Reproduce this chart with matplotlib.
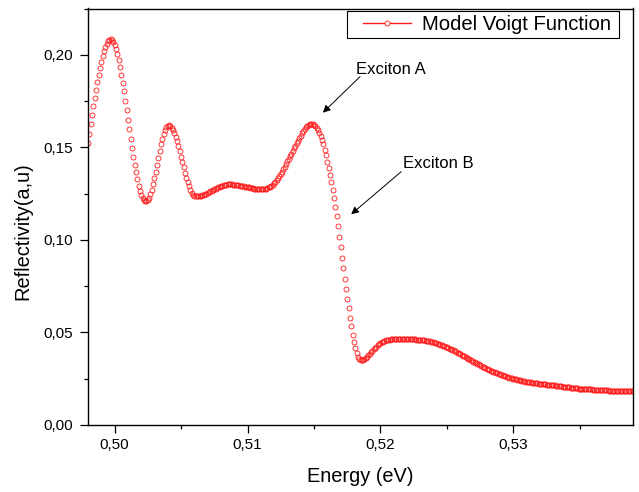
import numpy as np
import matplotlib
matplotlib.use("Agg")
import matplotlib.pyplot as plt
from matplotlib.lines import Line2D
from matplotlib.patches import Rectangle
from matplotlib.ticker import MultipleLocator, FuncFormatter

# ---------------- data ----------------
energy_start = 0.4980   # eV, first sample
energy_step = 0.0001    # eV, sample spacing

reflectivity = [
    0.1525, 0.1575, 0.1625, 0.1675, 0.1722, 0.1768, 0.1812, 0.1853, 0.1892, 0.1928,  # 0.4980
    0.1962, 0.1993, 0.2020, 0.2042, 0.2060, 0.2073, 0.2082, 0.2085, 0.2081, 0.2070,  # 0.4990
    0.2054, 0.2032, 0.2005, 0.1972, 0.1935, 0.1894, 0.1850, 0.1803, 0.1753, 0.1702,  # 0.5000
    0.1651, 0.1599, 0.1548, 0.1499, 0.1451, 0.1406, 0.1365, 0.1328, 0.1294, 0.1266,  # 0.5010
    0.1244, 0.1227, 0.1216, 0.1211, 0.1211, 0.1216, 0.1228, 0.1247, 0.1271, 0.1300,  # 0.5020
    0.1333, 0.1370, 0.1407, 0.1445, 0.1482, 0.1517, 0.1548, 0.1574, 0.1595, 0.1610,  # 0.5030
    0.1618, 0.1619, 0.1615, 0.1606, 0.1593, 0.1577, 0.1556, 0.1533, 0.1507, 0.1479,  # 0.5040
    0.1450, 0.1421, 0.1392, 0.1363, 0.1336, 0.1311, 0.1289, 0.1270, 0.1255, 0.1244,  # 0.5050
    0.1237, 0.1235, 0.1236, 0.1237, 0.1238, 0.1240, 0.1242, 0.1245, 0.1248, 0.1251,  # 0.5060
    0.1254, 0.1258, 0.1262, 0.1266, 0.1270, 0.1274, 0.1278, 0.1282, 0.1285, 0.1288,  # 0.5070
    0.1291, 0.1294, 0.1296, 0.1298, 0.1299, 0.1300, 0.1300, 0.1300, 0.1300, 0.1299,  # 0.5080
    0.1298, 0.1298, 0.1297, 0.1295, 0.1294, 0.1293, 0.1291, 0.1290, 0.1288, 0.1287,  # 0.5090
    0.1285, 0.1284, 0.1282, 0.1281, 0.1280, 0.1278, 0.1277, 0.1277, 0.1276, 0.1275,  # 0.5100
    0.1275, 0.1275, 0.1275, 0.1276, 0.1278, 0.1281, 0.1284, 0.1288, 0.1293, 0.1299,  # 0.5110
    0.1306, 0.1314, 0.1323, 0.1333, 0.1344, 0.1356, 0.1369, 0.1383, 0.1397, 0.1411,  # 0.5120
    0.1425, 0.1439, 0.1453, 0.1467, 0.1481, 0.1495, 0.1509, 0.1523, 0.1537, 0.1551,  # 0.5130
    0.1564, 0.1577, 0.1589, 0.1600, 0.1609, 0.1616, 0.1622, 0.1626, 0.1627, 0.1626,  # 0.5140
    0.1622, 0.1616, 0.1607, 0.1595, 0.1580, 0.1562, 0.1541, 0.1516, 0.1488, 0.1457,  # 0.5150
    0.1424, 0.1389, 0.1352, 0.1313, 0.1271, 0.1226, 0.1178, 0.1127, 0.1073, 0.1017,  # 0.5160
    0.0960, 0.0903, 0.0846, 0.0790, 0.0735, 0.0682, 0.0630, 0.0580, 0.0533, 0.0489,  # 0.5170
    0.0449, 0.0415, 0.0389, 0.0370, 0.0358, 0.0352, 0.0350, 0.0352, 0.0356, 0.0362,  # 0.5180
    0.0369, 0.0377, 0.0385, 0.0393, 0.0401, 0.0409, 0.0417, 0.0424, 0.0431, 0.0437,  # 0.5190
    0.0443, 0.0448, 0.0451, 0.0454, 0.0457, 0.0459, 0.0461, 0.0462, 0.0463, 0.0464,  # 0.5200
    0.0465, 0.0465, 0.0466, 0.0466, 0.0466, 0.0466, 0.0466, 0.0466, 0.0466, 0.0466,  # 0.5210
    0.0465, 0.0465, 0.0465, 0.0464, 0.0464, 0.0463, 0.0463, 0.0462, 0.0461, 0.0461,  # 0.5220
    0.0460, 0.0459, 0.0458, 0.0457, 0.0456, 0.0455, 0.0453, 0.0452, 0.0450, 0.0448,  # 0.5230
    0.0446, 0.0444, 0.0442, 0.0440, 0.0437, 0.0435, 0.0432, 0.0429, 0.0426, 0.0423,  # 0.5240
    0.0420, 0.0417, 0.0413, 0.0410, 0.0406, 0.0403, 0.0399, 0.0395, 0.0391, 0.0387,  # 0.5250
    0.0383, 0.0379, 0.0375, 0.0371, 0.0367, 0.0363, 0.0359, 0.0355, 0.0351, 0.0347,  # 0.5260
    0.0343, 0.0339, 0.0335, 0.0331, 0.0327, 0.0323, 0.0319, 0.0316, 0.0312, 0.0308,  # 0.5270
    0.0305, 0.0301, 0.0298, 0.0294, 0.0291, 0.0288, 0.0285, 0.0282, 0.0279, 0.0276,  # 0.5280
    0.0273, 0.0270, 0.0268, 0.0265, 0.0263, 0.0260, 0.0258, 0.0256, 0.0254, 0.0252,  # 0.5290
    0.0250, 0.0248, 0.0246, 0.0244, 0.0242, 0.0241, 0.0239, 0.0238, 0.0236, 0.0235,  # 0.5300
    0.0234, 0.0232, 0.0231, 0.0230, 0.0229, 0.0228, 0.0227, 0.0226, 0.0225, 0.0224,  # 0.5310
    0.0223, 0.0222, 0.0221, 0.0220, 0.0219, 0.0218, 0.0218, 0.0217, 0.0216, 0.0215,  # 0.5320
    0.0215, 0.0214, 0.0213, 0.0212, 0.0211, 0.0210, 0.0209, 0.0208, 0.0207, 0.0206,  # 0.5330
    0.0205, 0.0204, 0.0203, 0.0202, 0.0201, 0.0200, 0.0199, 0.0199, 0.0198, 0.0197,  # 0.5340
    0.0197, 0.0196, 0.0195, 0.0195, 0.0194, 0.0194, 0.0193, 0.0193, 0.0192, 0.0192,  # 0.5350
    0.0191, 0.0191, 0.0190, 0.0190, 0.0189, 0.0189, 0.0189, 0.0188, 0.0188, 0.0187,  # 0.5360
    0.0187, 0.0187, 0.0186, 0.0186, 0.0186, 0.0185, 0.0185, 0.0185, 0.0185, 0.0184,  # 0.5370
    0.0184, 0.0184, 0.0184, 0.0183, 0.0183, 0.0183, 0.0183, 0.0182, 0.0182, 0.0182,  # 0.5380
    0.0182,                                                                          # 0.5390
]

series_label = "Model Voigt Function"
x_label = "Energy (eV)"
y_label = "Reflectivity(a,u)"
x_ticks = [0.50, 0.51, 0.52, 0.53]
y_ticks = [0.00, 0.05, 0.10, 0.15, 0.20]
x_limits = (0.4980, 0.5390)
y_limits = (0.0, 0.2251)

annotations = [
    # text, text anchor (E, R), arrow tail (E, R), arrow tip (E, R)
    ("Exciton A", (0.51818, 0.1897), (0.51847, 0.1883), (0.51567, 0.1688)),
    ("Exciton B", (0.52168, 0.1391), (0.52156, 0.1369), (0.51780, 0.1139)),
]

energy = np.round(energy_start + energy_step * np.arange(len(reflectivity)), 4)
refl = np.array(reflectivity)

# ---------------- figure ----------------
plt.rcParams["font.family"] = ["Liberation Sans", "DejaVu Sans"]

W, H = 639, 492
fig = plt.figure(figsize=(W / 100, H / 100), dpi=100)
ax = fig.add_axes([88 / W, 1 - 425 / H, (633 - 88) / W, (425 - 8.5) / H])

red = "#ff1a1a"
ax.plot(energy, refl, linestyle="none", marker="o", markersize=3.6,
        markerfacecolor="none", markeredgecolor=red, markeredgewidth=0.6)

ax.set_xlim(*x_limits)
ax.set_ylim(*y_limits)

ax.set_xticks(x_ticks)
ax.set_yticks(y_ticks)
ax.xaxis.set_minor_locator(MultipleLocator(0.005))
ax.yaxis.set_minor_locator(MultipleLocator(0.025))
comma = FuncFormatter(lambda v, p: f"{v:.2f}".replace(".", ","))
ax.xaxis.set_major_formatter(comma)
ax.yaxis.set_major_formatter(comma)

for s in ax.spines.values():
    s.set_linewidth(1.0)
    s.set_color("black")

ax.tick_params(which="both", direction="out", top=False, right=False, width=0.9,
               colors="black", labelsize=11)
ax.tick_params(which="major", length=5.8)
ax.tick_params(which="minor", length=2.9)
ax.tick_params(axis="x", which="major", pad=3.5)
ax.tick_params(axis="y", which="major", pad=5.3)

ax.set_xlabel(x_label, fontsize=14.4)
ax.set_ylabel(y_label, fontsize=14.4)
ax.xaxis.set_label_coords(0.4987, -0.102)
ax.yaxis.set_label_coords(-0.1018, 0.466)

for text, txy, tail, tip in annotations:
    ax.text(txy[0], txy[1], text, fontsize=12, ha="left", va="baseline")
    ax.annotate("", xy=tip, xytext=tail,
                arrowprops=dict(arrowstyle="-|>", color="black", lw=0.7,
                                mutation_scale=11, shrinkA=0, shrinkB=0))

# legend frame (drawn as a plain box, as in the reference)
fig.patches.append(Rectangle((347.3 / W, 1 - 38.3 / H), (619 - 347.3) / W, (38.3 - 10.7) / H,
                             transform=fig.transFigure, facecolor="white",
                             edgecolor="black", linewidth=0.8, zorder=5))
proxy = Line2D([], [], color=red, lw=1.0, marker="o", markersize=3.6,
               markerfacecolor="white", markeredgecolor=red, markeredgewidth=0.6)
leg = fig.legend(handles=[proxy], labels=[series_label], loc="center left",
                 bbox_to_anchor=(363 / W, 1 - 24.8 / H), bbox_transform=fig.transFigure,
                 fontsize=14.6, frameon=False, borderpad=0, borderaxespad=0,
                 handlelength=2.35, handletextpad=0.58, numpoints=1)
leg.set_zorder(6)

fig.savefig("out.png", dpi=100)
